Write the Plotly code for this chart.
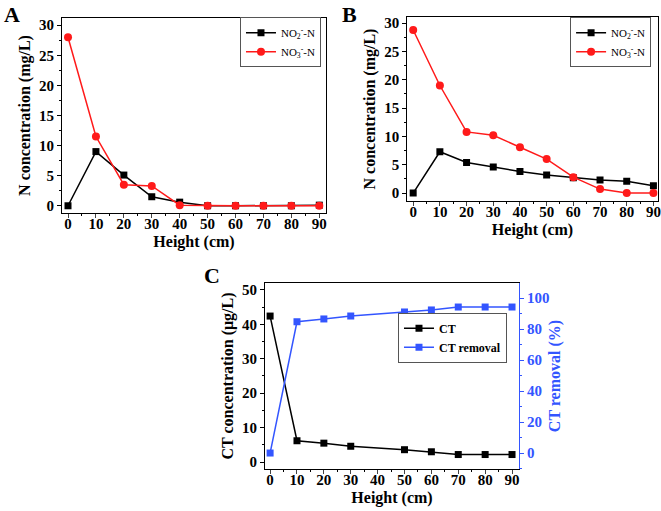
import plotly.graph_objects as go

height_ab = [0, 10, 20, 30, 40, 50, 60, 70, 80, 90]
a_no2 = [0.0, 9.0, 5.1, 1.5, 0.6, 0.0, 0.0, 0.0, 0.0, 0.1]
a_no3 = [28.0, 11.5, 3.5, 3.3, 0.1, 0.0, 0.0, 0.0, 0.0, 0.0]
b_no2 = [0.0, 7.3, 5.4, 4.6, 3.8, 3.2, 2.7, 2.3, 2.1, 1.3]
b_no3 = [28.8, 19.0, 10.8, 10.2, 8.1, 6.0, 2.8, 0.7, 0.0, 0.0]

height_c = [0, 10, 20, 30, 50, 60, 70, 80, 90]
c_ct = [42.4, 6.2, 5.5, 4.6, 3.6, 3.0, 2.2, 2.2, 2.2]
c_removal = [0.0, 84.7, 86.5, 88.4, 91.0, 92.3, 94.2, 94.2, 94.2]

x_ticks = [0, 10, 20, 30, 40, 50, 60, 70, 80, 90]
name_no2 = "NO<sub>2</sub><sup>-</sup>-N"
name_no3 = "NO<sub>3</sub><sup>-</sup>-N"

FONT = "Liberation Serif"
BLUE = "#3355ff"
RED = "#ff1a1a"

fig = go.Figure()

# Panel A
fig.add_trace(go.Scatter(x=height_ab, y=a_no2, mode="lines+markers", name=name_no2,
                         line=dict(color="black", width=1.5),
                         marker=dict(symbol="square", size=7, color="black"),
                         xaxis="x", yaxis="y", legend="legend"))
fig.add_trace(go.Scatter(x=height_ab, y=a_no3, mode="lines+markers", name=name_no3,
                         line=dict(color=RED, width=1.5),
                         marker=dict(symbol="circle", size=8, color=RED),
                         xaxis="x", yaxis="y", legend="legend"))
# Panel B
fig.add_trace(go.Scatter(x=height_ab, y=b_no2, mode="lines+markers", name=name_no2,
                         line=dict(color="black", width=1.5),
                         marker=dict(symbol="square", size=7, color="black"),
                         xaxis="x2", yaxis="y2", legend="legend2"))
fig.add_trace(go.Scatter(x=height_ab, y=b_no3, mode="lines+markers", name=name_no3,
                         line=dict(color=RED, width=1.5),
                         marker=dict(symbol="circle", size=8, color=RED),
                         xaxis="x2", yaxis="y2", legend="legend2"))
# Panel C
fig.add_trace(go.Scatter(x=height_c, y=c_ct, mode="lines+markers", name="CT",
                         line=dict(color="black", width=1.5),
                         marker=dict(symbol="square", size=7, color="black"),
                         xaxis="x3", yaxis="y3", legend="legend3"))
fig.add_trace(go.Scatter(x=height_c, y=c_removal, mode="lines+markers", name="CT removal",
                         line=dict(color=BLUE, width=1.5),
                         marker=dict(symbol="square", size=7, color=BLUE),
                         xaxis="x3", yaxis="y4", legend="legend3"))

tickfont = dict(family=FONT, size=15, color="black", weight="bold")
titlefont = dict(family=FONT, size=16, color="black", weight="bold")


def xax(domain, anchor, rng):
    return dict(domain=domain, anchor=anchor, range=rng, tickvals=x_ticks, automargin=False,
                ticks="outside", ticklen=4, tickwidth=1.2, showline=True, linecolor="black",
                linewidth=1.2, mirror=True, showgrid=False, zeroline=False,
                tickfont=tickfont, ticklabelstandoff=-7,
                minor=dict(dtick=5, ticks="outside", ticklen=2, tickcolor="black"),
                title=dict(text="Height (cm)", font=titlefont, standoff=4))


def yax(domain, anchor, rng, dtick, minor, title, mirror=True, color="black", standoff=4):
    return dict(domain=domain, anchor=anchor, range=rng, dtick=dtick, automargin=False,
                ticks="outside", ticklen=4, tickwidth=1.2, tickcolor=color,
                showline=True, linecolor=color, linewidth=1.2, mirror=mirror,
                showgrid=False, zeroline=False,
                tickfont=dict(family=FONT, size=15, color=color, weight="bold"),
                minor=dict(dtick=minor, ticks="outside", ticklen=2, tickcolor=color),
                title=dict(text=title, font=dict(family=FONT, size=16, color=color, weight="bold"),
                           standoff=standoff))


legend_common = dict(xanchor="right", yanchor="top", bordercolor="#555555", borderwidth=1,
                     bgcolor="white", tracegroupgap=0, itemwidth=30)

fig.update_layout(
    width=661, height=511,
    margin=dict(l=0, r=0, t=0, b=0, autoexpand=False),
    paper_bgcolor="white", plot_bgcolor="white",
    showlegend=True,
    xaxis=xax([0.0938, 0.4932], "y", [-2.15, 92.4]),
    yaxis=yax([0.5832, 0.9648], "x", [-1.2, 31.2], 5, 2.5, "N concentration (mg/L)"),
    xaxis2=xax([0.6162, 0.995], "y2", [-2.2, 91.6]),
    yaxis2=yax([0.6067, 0.9667], "x2", [-1.4, 31.1], 5, 2.5, "N concentration (mg/L)"),
    xaxis3=xax([0.4009, 0.7852], "y3", [-1.9, 92.6]),
    yaxis3=yax([0.0822, 0.4462], "x3", [-2, 52], 10, 5, "CT concentration (μg/L)", mirror=False),
    yaxis4=yax([0.0822, 0.4462], "x3", [-10.3, 109.7], 20, 10, "CT removal (%)", mirror=False,
               color=BLUE, standoff=0),
    legend=dict(x=0.4856, y=0.966, font=dict(family=FONT, size=11, color="black"), **legend_common),
    legend2=dict(x=0.985, y=0.966, font=dict(family=FONT, size=11, color="black"), **legend_common),
    legend3=dict(x=0.767, y=0.388, font=dict(family=FONT, size=12, color="black", weight="bold"),
                 **legend_common),
    annotations=[
        dict(text="<b>A</b>", x=0.003, y=1.0, xref="paper", yref="paper", xanchor="left", yanchor="top",
             showarrow=False, font=dict(family=FONT, size=22, color="black")),
        dict(text="<b>B</b>", x=0.515, y=1.0, xref="paper", yref="paper", xanchor="left", yanchor="top",
             showarrow=False, font=dict(family=FONT, size=22, color="black")),
        dict(text="<b>C</b>", x=0.305, y=0.49, xref="paper", yref="paper", xanchor="left", yanchor="top",
             showarrow=False, font=dict(family=FONT, size=22, color="black")),
    ],
)
fig.update_layout(yaxis4=dict(overlaying="y3", side="right"))

fig.write_html("out.html", config={"displayModeBar": False},
               post_script="document.body.style.margin='0';document.body.style.overflow='hidden';")
